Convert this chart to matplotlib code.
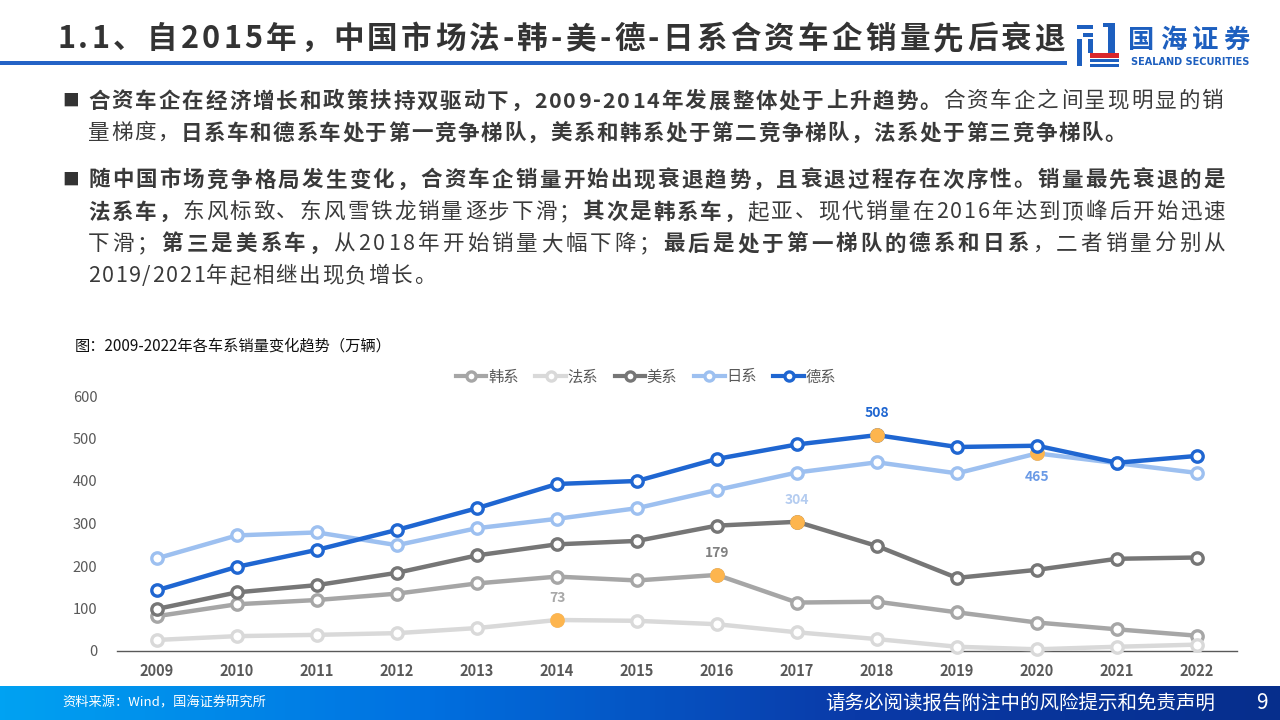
import matplotlib
matplotlib.use("Agg")
import matplotlib.pyplot as plt
from matplotlib.patches import Rectangle
import numpy as np

CJK = ["Noto Sans CJK SC", "DejaVu Sans"]
plt.rcParams["font.family"] = CJK

W, H = 1280, 720

# data (万辆)
years = ["2009", "2010", "2011", "2012", "2013", "2014", "2015",
         "2016", "2017", "2018", "2019", "2020", "2021", "2022"]
korea = [82, 110, 120, 135, 159, 175, 166, 179, 114, 116, 91, 67, 51, 36]
france = [26, 35, 38, 42, 54, 73, 71, 63, 44, 28, 10, 4, 10, 15]
usa = [99, 138, 155, 184, 225, 251, 259, 295, 304, 247, 172, 191, 217, 220]
japan = [218, 272, 279, 249, 289, 311, 336, 379, 420, 444, 418, 465, 442, 419]
germany = [143, 198, 238, 285, 336, 393, 400, 452, 486, 508, 480, 483, 443, 459]

names = ["韩系", "法系", "美系", "日系", "德系"]
colors = ["#a6a6a6", "#d9d9d9", "#767676", "#9dc0f0", "#1f66d1"]
# highlighted point per series: (year index, label colour)
peaks = [(7, "#808080"), (5, "#a8a8a8"), (8, "#b4ccf0"), (11, "#6a9ae6"), (9, "#1f66d1")]
peak_below = [False, False, False, True, False]

title = "1.1、自2015年，中国市场法-韩-美-德-日系合资车企销量先后衰退"
para1 = [
    [("合资车企在经济增长和政策扶持双驱动下，2009-2014年发展整体处于上升趋势。", True),
     ("合资车企之间呈现明显的销", False)],
    [("量梯度，", False),
     ("日系车和德系车处于第一竞争梯队，美系和韩系处于第二竞争梯队，法系处于第三竞争梯队。", True)],
]
para2 = [
    [("随中国市场竞争格局发生变化，合资车企销量开始出现衰退趋势，且衰退过程存在次序性。销量最先衰退的是", True)],
    [("法系车，", True), ("东风标致、东风雪铁龙销量逐步下滑；", False),
     ("其次是韩系车，", True), ("起亚、现代销量在2016年达到顶峰后开始迅速", False)],
    [("下滑；", False), ("第三是美系车，", True), ("从2018年开始销量大幅下降；", False),
     ("最后是处于第一梯队的德系和日系", True), ("，二者销量分别从", False)],
    [("2019/2021年起相继出现负增长。", False)],
]


def fx(x):
    return x / W


def fy(y):
    return 1 - y / H


fig = plt.figure(figsize=(12.8, 7.2), dpi=100)
fig.patch.set_facecolor("white")
renderer = fig.canvas.get_renderer()


def put_chars(runs, x0, y, size, color, x1=None, track=0.0):
    items = []
    for txt, bold in runs:
        for ch in txt:
            t = fig.text(0, fy(y), ch, fontsize=size, color=color, va="center", ha="left",
                         fontweight="bold" if bold else "normal", family=CJK)
            items.append((t, t.get_window_extent(renderer).width))
    total = sum(w for _, w in items)
    gap = track
    if x1 is not None and len(items) > 1:
        gap = (x1 - x0 - total) / (len(items) - 1)
    x = x0
    for t, w in items:
        t.set_x(fx(x))
        x += w + gap


# header
put_chars([(title, True)], 57, 39, 22, "#333333", x1=1065)
fig.add_artist(Rectangle((0, fy(65)), fx(1067), 4 / H, transform=fig.transFigure,
                         color="#2463c6", lw=0))

# logo
lg = fig.add_axes([fx(1077), fy(67), 44 / W, 44 / H])
lg.set_xlim(0, 44)
lg.set_ylim(44, 0)
lg.axis("off")
blue = "#1d5fbf"
for (x0, y0, w, h, c) in [(0, 2, 16, 4, blue), (6, 10, 10, 4, blue), (0, 16, 5, 27, blue),
                          (11, 16, 5, 14, blue), (31, 0, 7, 30, blue), (26, 0, 12, 4, blue),
                          (13, 30, 29, 5, "#d9262c"), (13, 36, 29, 3, blue), (13, 41, 29, 3, blue)]:
    lg.add_patch(Rectangle((x0, y0), w, h, color=c, lw=0))
put_chars([("国海证券", True)], 1128, 40, 19, "#1d5fbf", x1=1250)
fig.text(fx(1190), fy(62), "SEALAND SECURITIES", fontsize=7, fontweight="bold",
         color="#1d5fbf", ha="center", va="center", family=["DejaVu Sans"])

# body text
fs = 15.5
txt_color = "#3a3a3a"
for y in (101, 180):
    fig.text(fx(62), fy(y), "■", fontsize=12, color="#333333", va="center", ha="left")
put_chars(para1[0], 88, 101, fs, txt_color, x1=1223)
put_chars(para1[1], 88, 133, fs, txt_color, track=1.6)
put_chars(para2[0], 88, 180, fs, txt_color, x1=1225)
put_chars(para2[1], 88, 212, fs, txt_color, x1=1225)
put_chars(para2[2], 88, 244, fs, txt_color, x1=1225)
put_chars(para2[3], 88, 276, fs, txt_color, track=1.6)

fig.text(fx(75), fy(346), "图：2009-2022年各车系销量变化趋势（万辆）", fontsize=11,
         color="#111111", va="center", ha="left")

# chart
ax = fig.add_axes([fx(117), fy(651), (1237 - 117) / W, (651 - 396) / H])
x = np.arange(len(years))
series = [korea, france, usa, japan, germany]
for i, (vals, name, c) in enumerate(zip(series, names, colors)):
    ax.plot(x, vals, color=c, lw=3.2, marker="o", ms=8.2, mfc="white", mec=c, mew=2.4,
            label=name, zorder=2 + i, clip_on=False)
    k, lc = peaks[i]
    ax.plot(x[k], vals[k], "o", color="#fdb54e", ms=10.6, mew=0, zorder=2 + i, clip_on=False)
    dy = -17 if peak_below[i] else 16
    ax.annotate(str(vals[k]), (x[k], vals[k]), xytext=(0, dy), textcoords="offset points",
                ha="center", va="center", fontsize=10, fontweight="bold", color=lc,
                zorder=10)

ax.set_xlim(-0.5, len(years) - 0.5)
ax.set_ylim(0, 600)
ax.set_yticks(range(0, 601, 100))
ax.set_xticks(x)
ax.set_xticklabels(years, fontweight="bold")
ax.tick_params(axis="y", length=0, pad=14, labelsize=10.5, labelcolor="#595959")
ax.tick_params(axis="x", length=0, pad=9, labelsize=10.5, labelcolor="#595959")
for s in ("top", "right", "left"):
    ax.spines[s].set_visible(False)
ax.spines["bottom"].set_color("#595959")
ax.spines["bottom"].set_linewidth(1)
ax.patch.set_alpha(0)

handles, labels = ax.get_legend_handles_labels()
leg = fig.legend(handles, labels, loc="center", bbox_to_anchor=(fx(646), fy(377)), ncol=5,
                 frameon=False, fontsize=11, handlelength=2.0, handletextpad=0.1,
                 columnspacing=1.1, markerscale=0.8, labelcolor="#595959")
for line in leg.get_lines():
    line.set_linewidth(3)

# footer
fb = fig.add_axes([0, 0, 1, 34 / H])
grad = np.linspace(0, 1, 256)[None, :]
cmap = matplotlib.colors.LinearSegmentedColormap.from_list(
    "foot", ["#00a2f2", "#0070e0", "#0a3aa8", "#062e8c"])
fb.imshow(grad, aspect="auto", cmap=cmap, extent=(0, 1, 0, 1))
fb.axis("off")
fig.text(fx(62), fy(703), "资料来源：Wind，国海证券研究所", fontsize=9.5, color="white",
         va="center", ha="left")
fig.text(fx(1215), fy(703), "请务必阅读报告附注中的风险提示和免责声明", fontsize=14,
         color="white", va="center", ha="right")
fig.text(fx(1262), fy(703), "9", fontsize=15, color="white", va="center", ha="center")

fig.savefig("out.png", dpi=100)
